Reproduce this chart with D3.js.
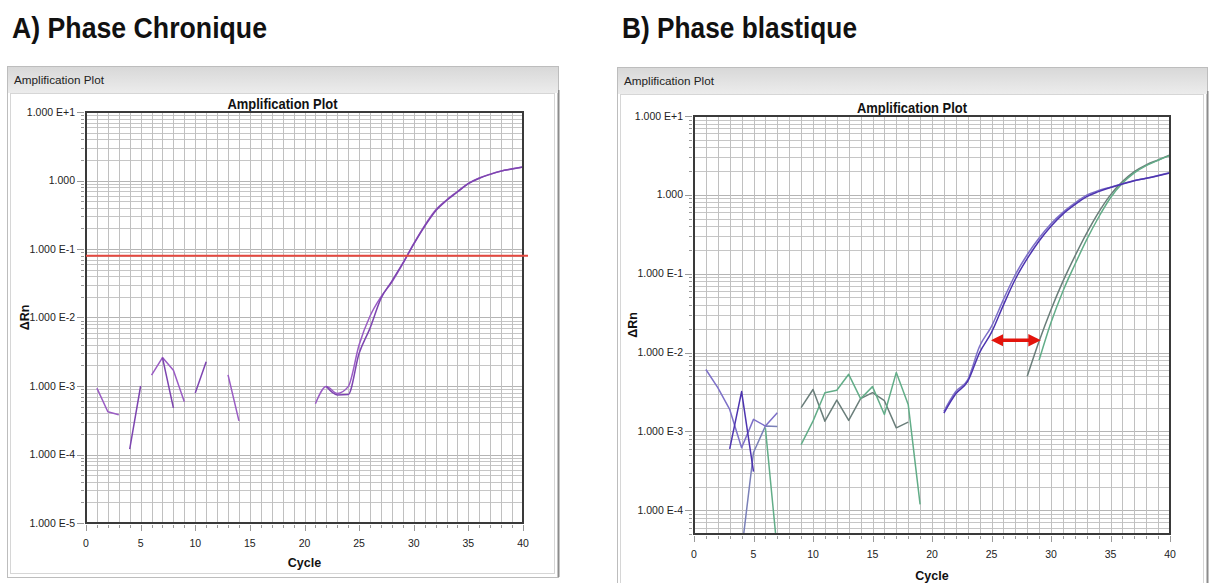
<!DOCTYPE html>
<html>
<head>
<meta charset="utf-8">
<style>
  body { margin: 0; background: #fff; }
  svg { display: block; font-family: "Liberation Sans", Arial, sans-serif; }
</style>
</head>
<body>
<svg width="1212" height="583"></svg>
<script src="https://d3js.org/d3.v7.min.js"></script>
<script>

// cycles 1..40
var cycles = [1,2,3,4,5,6,7,8,9,10,11,12,13,14,15,16,17,18,19,20,
              21,22,23,24,25,26,27,28,29,30,31,32,33,34,35,36,37,38,39,40];

var xTicks = [0,5,10,15,20,25,30,35,40];

// A) chronic phase - two replicates (null = not plotted on log axis)
var chronA1 = [9.3e-4,4.2e-4,3.8e-4,null,null,1.44e-3,2.6e-3,1.7e-3,5.9e-4,null,
               null,null,1.45e-3,3.1e-4,null,null,null,null,null,null,
               5.5e-4,9.8e-4,7.8e-4,9.8e-4,4.0e-3,1.05e-2,2.0e-2,3.3e-2,6.1e-2,0.12,
               0.22,0.37,0.52,0.69,0.91,1.09,1.24,1.38,1.48,1.58];
var chronA2 = [null,null,null,1.2e-4,1.0e-3,null,2.6e-3,4.8e-4,null,7.9e-4,
               2.26e-3,null,null,null,null,null,null,null,null,null,
               null,9.8e-4,7.4e-4,7.5e-4,3.0e-3,7.0e-3,1.9e-2,3.4e-2,6.2e-2,0.118,
               0.215,0.36,0.51,0.68,0.9,1.08,1.23,1.37,1.47,1.57];
var chronThreshold = 0.08;

// B) blast phase
var blastP1 = [6.1e-3,3.6e-3,1.9e-3,6.2e-4,1.42e-3,1.17e-3,1.72e-3,null,null,null,
               null,null,null,null,null,null,null,null,null,null,
               1.8e-3,3.2e-3,4.5e-3,1.2e-2,0.0215,0.047,0.097,0.174,0.283,0.43,
               0.60,0.785,0.99,1.135,1.25,1.38,1.52,1.62,1.76,1.92];
var blastP2 = [null,null,6.0e-4,3.2e-3,3.1e-4,null,null,null,null,null,
               null,null,null,null,null,null,null,null,null,null,
               1.7e-3,3.0e-3,4.3e-3,1.0e-2,0.018,0.04,0.085,0.155,0.26,0.40,
               0.57,0.75,0.95,1.1,1.24,1.37,1.51,1.62,1.75,1.9];
var blastP3 = [null,null,null,3e-5,5.4e-4,1.17e-3,1.15e-3,null,null,null,
               null,null,null,null,null,null,null,null,null,null,
               null,null,null,null,null,null,null,null,null,null,
               null,null,null,null,null,null,null,null,null,null];
var blastG  = [null,null,null,null,null,1.1e-3,3e-5,null,6.8e-4,1.35e-3,
               3.1e-3,3.33e-3,5.3e-3,2.6e-3,3.7e-3,1.64e-3,5.6e-3,2.2e-3,1.19e-4,null,
               null,null,null,null,null,null,null,null,8e-3,0.024,
               0.06,0.13,0.27,0.52,0.92,1.4,1.9,2.35,2.75,3.15];
var blastT  = [null,null,null,null,null,null,null,null,2.0e-3,3.4e-3,
               1.35e-3,2.5e-3,1.38e-3,2.6e-3,3.1e-3,2.45e-3,1.11e-3,1.31e-3,null,null,
               null,null,null,null,null,null,null,5.0e-3,0.0139,0.035,
               0.080,0.166,0.327,0.60,1.0,1.47,1.97,2.4,2.77,3.2];
var blastShift = [24.7, 29.4];   // cycles spanned by the red arrow
var blastShiftLevel = 0.0143;

var svg = d3.select("svg");

var defs = svg.append("defs");
var grad = defs.append("linearGradient").attr("id", "band")
    .attr("x1", 0).attr("y1", 0).attr("x2", 0).attr("y2", 1);
grad.append("stop").attr("offset", "0%").attr("stop-color", "#d8d8d8");
grad.append("stop").attr("offset", "100%").attr("stop-color", "#ececec");

defs.append("marker").attr("id", "head")
    .attr("viewBox", "0 0 10 10").attr("refX", 6).attr("refY", 5)
    .attr("markerWidth", 3.6).attr("markerHeight", 3.6)
    .attr("orient", "auto-start-reverse")
  .append("path").attr("d", "M0,0L10,5L0,10z").attr("fill", "#e3140c");

function fmt(v) {
  var e = Math.round(Math.log10(v));
  if (e === 0) return "1.000";
  return "1.000 E" + (e > 0 ? "+" : "") + e;
}

function drawPanel(p) {
  var g = svg.append("g");
  var f = p.frame;

  // window frame
  g.append("rect").attr("x", f.x + 0.5).attr("y", f.y + 0.5)
    .attr("width", f.w).attr("height", f.h)
    .attr("fill", "#fff").attr("stroke", "#bdbdbd");
  g.append("line").attr("x1", f.x + f.w + 0.5).attr("x2", f.x + f.w + 0.5)
    .attr("y1", f.y + 24).attr("y2", f.y + f.h)
    .attr("stroke", "#8c8c8c").attr("stroke-width", 2);
  g.append("rect").attr("x", f.x + 1).attr("y", f.y + 1)
    .attr("width", f.w - 1).attr("height", 26).attr("fill", "url(#band)");
  g.append("rect").attr("x", f.x + 3.5).attr("y", f.y + 27.5)
    .attr("width", f.w - 7).attr("height", f.h - 31)
    .attr("fill", "none").attr("stroke", "#d6d6d6");
  g.append("text").attr("x", f.x + 7).attr("y", f.y + 18)
    .attr("font-size", 11.5).attr("fill", "#222")
    .attr("textLength", 90).attr("lengthAdjust", "spacingAndGlyphs")
    .text("Amplification Plot");

  // big panel title
  svg.append("text").attr("x", p.titleX).attr("y", 38)
    .attr("font-size", 29).attr("font-weight", "bold").attr("fill", "#111")
    .attr("textLength", p.titleLen).attr("lengthAdjust", "spacingAndGlyphs")
    .text(p.title);

  // chart title centred on window
  g.append("text").attr("x", f.x + f.w / 2).attr("y", p.plot.t - 3)
    .attr("text-anchor", "middle").attr("font-size", 15).attr("font-weight", "bold")
    .attr("fill", "#111")
    .attr("textLength", 110).attr("lengthAdjust", "spacingAndGlyphs")
    .text("Amplification Plot");

  var x = d3.scaleLinear().domain([0, 40]).range([p.plot.l, p.plot.r]);
  var y = d3.scaleLog().domain([p.yMin, 10]).range([p.plot.b, p.plot.t]);

  var clipId = "clip" + p.id;
  defs.append("clipPath").attr("id", clipId)
    .append("rect").attr("x", p.plot.l).attr("y", p.plot.t)
    .attr("width", p.plot.r - p.plot.l).attr("height", p.plot.b - p.plot.t);

  var isDecade = function(t) {
    return Math.abs(Math.log10(t) - Math.round(Math.log10(t))) < 1e-6;
  };
  var yTicksAll = y.ticks();
  var decades = yTicksAll.filter(isDecade);

  // grid
  var grid = g.append("g");
  grid.selectAll("line.h").data(yTicksAll).enter().append("line")
    .attr("x1", p.plot.l).attr("x2", p.plot.r)
    .attr("y1", function(d) { return Math.round(y(d)) + 0.5; })
    .attr("y2", function(d) { return Math.round(y(d)) + 0.5; })
    .attr("stroke", function(d) { return isDecade(d) ? "#b5b5b5" : "#c6c6c6"; })
    .attr("stroke-width", 1);
  grid.selectAll("line.v").data(cycles.slice(0, 39)).enter().append("line")
    .attr("y1", p.plot.t).attr("y2", p.plot.b)
    .attr("x1", function(d) { return Math.round(x(d)) + 0.5; })
    .attr("x2", function(d) { return Math.round(x(d)) + 0.5; })
    .attr("stroke", "#c0c0c0").attr("stroke-width", 1);

  // y axis
  var yAxis = g.append("g");
  yAxis.selectAll("line").data(yTicksAll).enter().append("line")
    .attr("x1", function(d) { return p.plot.l - (isDecade(d) ? 9 : 5); })
    .attr("x2", p.plot.l - 2)
    .attr("y1", function(d) { return Math.round(y(d)) + 0.5; })
    .attr("y2", function(d) { return Math.round(y(d)) + 0.5; })
    .attr("stroke", "#9a9a9a");
  yAxis.selectAll("text").data(decades).enter().append("text")
    .attr("x", p.plot.l - 11).attr("y", function(d) { return y(d) + 3.5; })
    .attr("text-anchor", "end").attr("font-size", 10.5).attr("fill", "#222")
    .text(fmt);

  // x axis
  var xAxis = g.append("g");
  xAxis.selectAll("line").data([0].concat(cycles)).enter().append("line")
    .attr("x1", function(d) { return Math.round(x(d)) + 0.5; })
    .attr("x2", function(d) { return Math.round(x(d)) + 0.5; })
    .attr("y1", p.plot.b + 2)
    .attr("y2", function(d) { return p.plot.b + (d % 5 === 0 ? 8 : 5); })
    .attr("stroke", "#9a9a9a");
  xAxis.selectAll("text").data(xTicks).enter().append("text")
    .attr("x", function(d) { return x(d); }).attr("y", p.plot.b + 24)
    .attr("text-anchor", "middle").attr("font-size", 10.5).attr("fill", "#222")
    .text(function(d) { return d; });

  g.append("text").attr("x", (p.plot.l + p.plot.r) / 2).attr("y", p.plot.b + p.cycleDy)
    .attr("text-anchor", "middle").attr("font-size", 12.5).attr("font-weight", "bold")
    .attr("fill", "#111").text("Cycle");
  g.append("text")
    .attr("transform", "translate(" + p.yLabelX + "," + (p.plot.t + p.plot.b) / 2 + ") rotate(-90)")
    .attr("text-anchor", "middle").attr("font-size", 12.5).attr("font-weight", "bold")
    .attr("fill", "#111").text("\u0394Rn");

  // curves: baseline noise drawn straight, amplification part smoothed
  var lineNoise = d3.line()
    .defined(function(d) { return d[1] != null; })
    .x(function(d) { return x(d[0]); })
    .y(function(d) { return y(d[1]); });
  var lineGrowth = d3.line()
    .defined(function(d) { return d[1] != null; })
    .x(function(d) { return x(d[0]); })
    .y(function(d) { return y(d[1]); })
    .curve(d3.curveMonotoneX);

  var curves = g.append("g").attr("clip-path", "url(#" + clipId + ")");
  p.series.forEach(function(s) {
    var pts = cycles.map(function(c, i) { return [c, s.values[i]]; });
    var early = pts.filter(function(d) { return d[0] <= 20; });
    var late = pts.filter(function(d) { return d[0] >= 21; });
    [[early, lineNoise], [late, lineGrowth]].forEach(function(part) {
      curves.append("path").attr("d", part[1](part[0]))
        .attr("fill", "none").attr("stroke", s.color).attr("stroke-width", 1.5)
        .attr("stroke-linejoin", "round");
    });
  });

  // plot border
  g.append("rect").attr("x", p.plot.l).attr("y", p.plot.t)
    .attr("width", p.plot.r - p.plot.l).attr("height", p.plot.b - p.plot.t)
    .attr("fill", "none").attr("stroke", "#3a3a3a").attr("stroke-width", 2);

  if (p.threshold != null) {
    g.append("line").attr("x1", p.plot.l).attr("x2", p.plot.r + 5)
      .attr("y1", y(p.threshold)).attr("y2", y(p.threshold))
      .attr("stroke", "#e5483f").attr("stroke-width", 2);
  }
  if (p.arrow) {
    g.append("line")
      .attr("x1", x(p.arrow[0]) + 8).attr("x2", x(p.arrow[1]) - 8)
      .attr("y1", y(p.arrowLevel)).attr("y2", y(p.arrowLevel))
      .attr("stroke", "#e3140c").attr("stroke-width", 3.5)
      .attr("marker-start", "url(#head)").attr("marker-end", "url(#head)");
  }
}

drawPanel({
  id: "A",
  frame: { x: 7, y: 66, w: 551, h: 511 },
  plot: { l: 86, t: 112, r: 523, b: 523 },
  yMin: 1e-5,
  title: "A) Phase Chronique", titleX: 12, titleLen: 255,
  yLabelX: 29, cycleDy: 44,
  threshold: chronThreshold,
  series: [
    { values: chronA1, color: "#9a5cc4" },
    { values: chronA2, color: "#7d45b0" }
  ]
});

drawPanel({
  id: "B",
  frame: { x: 617, y: 67, w: 590, h: 530 },
  plot: { l: 694, t: 116, r: 1170, b: 534 },
  yMin: 5e-5,
  title: "B) Phase blastique", titleX: 622, titleLen: 235,
  yLabelX: 637, cycleDy: 46,
  arrow: blastShift, arrowLevel: blastShiftLevel,
  series: [
    { values: blastP3, color: "#7a80b8" },
    { values: blastT,  color: "#6a7e7a" },
    { values: blastG,  color: "#62ad88" },
    { values: blastP1, color: "#7d70c8" },
    { values: blastP2, color: "#4d34b0" }
  ]
});

</script>
</body>
</html>
